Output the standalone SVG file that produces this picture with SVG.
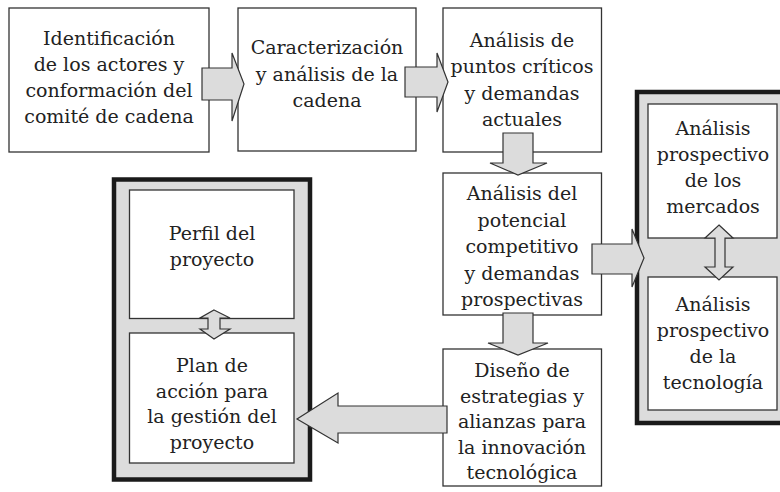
<svg xmlns="http://www.w3.org/2000/svg" width="780" height="492" viewBox="0 0 780 492">
<style>
.box{fill:#fff;stroke:#333;stroke-width:1.3}
.cont{fill:#dcdcdc;stroke:#1a1a1a;stroke-width:4.5}
.arr{fill:#dcdcdc;stroke:#333;stroke-width:1.2;stroke-linejoin:miter}
text{font-family:"DejaVu Serif","Liberation Serif",serif;font-size:19px;fill:#222;text-anchor:middle}
</style>
<rect width="780" height="492" fill="#fff"/>
<g id="n1">
<rect class="box" x="9" y="8" width="200" height="144"/>
<text x="109" y="45">Identificación</text>
<text x="109" y="71">de los actores y</text>
<text x="109" y="97">conformación del</text>
<text x="109" y="123">comité de cadena</text>
</g>
<g id="n2">
<rect class="box" x="238" y="8" width="178" height="143"/>
<text x="327" y="54">Caracterización</text>
<text x="327" y="80.5">y análisis de la</text>
<text x="327" y="106.5">cadena</text>
</g>
<g id="n3">
<rect class="box" x="443" y="8" width="158.5" height="144"/>
<text x="522" y="47">Análisis de</text>
<text x="522" y="73">puntos críticos</text>
<text x="522" y="99.5">y demandas</text>
<text x="522" y="126">actuales</text>
</g>
<g id="n4">
<rect class="box" x="443" y="173" width="158.5" height="142"/>
<text x="522" y="200">Análisis del</text>
<text x="522" y="226.5">potencial</text>
<text x="522" y="253">competitivo</text>
<text x="522" y="279.5">y demandas</text>
<text x="522" y="306">prospectivas</text>
</g>
<g id="n5">
<rect class="box" x="443" y="349" width="158.5" height="137"/>
<text x="522" y="377">Diseño de</text>
<text x="522" y="402.5">estrategias y</text>
<text x="522" y="428">alianzas para</text>
<text x="522" y="453.5">la innovación</text>
<text x="522" y="479">tecnológica</text>
</g>
<g id="grp-right">
<rect class="cont" x="637" y="92" width="160" height="331"/>
<g id="n6">
<rect class="box" x="648" y="104" width="129" height="134"/>
<text x="713" y="135">Análisis</text>
<text x="713" y="161">prospectivo</text>
<text x="713" y="187">de los</text>
<text x="713" y="213">mercados</text>
</g>
<g id="n7">
<rect class="box" x="648" y="277" width="129" height="133"/>
<text x="713" y="311">Análisis</text>
<text x="713" y="337">prospectivo</text>
<text x="713" y="363">de la</text>
<text x="713" y="389">tecnología</text>
</g>
</g>
<g id="grp-left">
<rect class="cont" x="114" y="179.5" width="196" height="300"/>
<g id="n8">
<rect class="box" x="129.5" y="190" width="164.5" height="128.5"/>
<text x="212" y="240">Perfil del</text>
<text x="212" y="266">proyecto</text>
</g>
<g id="n9">
<rect class="box" x="129.5" y="333" width="164.5" height="130"/>
<text x="212" y="372">Plan de</text>
<text x="212" y="397.5">acción para</text>
<text x="212" y="423">la gestión del</text>
<text x="212" y="448.5">proyecto</text>
</g>
</g>
<g id="connectors">
<polygon class="arr" points="202,68 232,68 232,53 244,84 232,121 232,100 202,100"/>
<polygon class="arr" points="405,67 437,67 437,53 448,82 437,112 437,97 405,97"/>
<polygon class="arr" points="503,133 533,133 533,163 547,163 518,175 490,163 503,163"/>
<polygon class="arr" points="503,313 533,313 533,343 548,343 518,355 488,343 503,343"/>
<polygon class="arr" points="592,244 632,244 632,229 644,258 632,287 632,274 592,274"/>
<polygon class="arr" points="719,225 733,238 725,238 725,267 733,267 719,280 705,267 715,267 715,238 705,238"/>
<polygon class="arr" points="214,310 230,318 220,318 220,329 230,329 214,339 200,329 208,329 208,318 200,318"/>
<polygon class="arr" points="447,406 338,406 338,393 297,419 338,443 338,433 447,433"/>
</g>
</svg>
